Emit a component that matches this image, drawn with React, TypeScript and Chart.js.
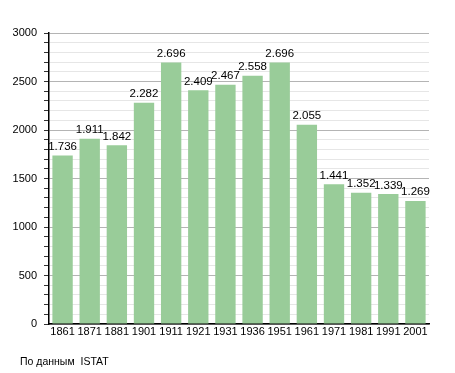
import React, { useEffect, useRef } from "react";
import { Chart, registerables } from "chart.js";

Chart.register(...registerables);

const years = ["1861", "1871", "1881", "1901", "1911", "1921", "1931", "1936", "1951", "1961", "1971", "1981", "1991", "2001"];
const population = [1736, 1911, 1842, 2282, 2696, 2409, 2467, 2558, 2696, 2055, 1441, 1352, 1339, 1269];
const valueLabels = ["1.736", "1.911", "1.842", "2.282", "2.696", "2.409", "2.467", "2.558", "2.696", "2.055", "1.441", "1.352", "1.339", "1.269"];
const sourceText = "По данным  ISTAT";

const FONT = "'Liberation Sans', Arial, sans-serif";

export default function App() {
  const ref = useRef<HTMLCanvasElement | null>(null);

  useEffect(() => {
    const canvas = ref.current;
    if (!canvas) return;

    const labelPlugin = {
      id: "labels",
      afterDatasetsDraw(chart: any) {
        const ctx = chart.ctx;
        const meta = chart.getDatasetMeta(0);
        ctx.save();
        ctx.font = `11.5px ${FONT}`;
        ctx.fillStyle = "#000";
        ctx.textAlign = "center";
        ctx.textBaseline = "bottom";
        meta.data.forEach((bar: any, i: number) => {
          ctx.fillText(valueLabels[i], bar.x, bar.y - 3);
        });
        ctx.font = `10.5px ${FONT}`;
        ctx.textAlign = "left";
        ctx.textBaseline = "middle";
        ctx.fillText(sourceText, 20, 362);
        ctx.restore();
      },
    };

    const chart = new Chart(canvas, {
      type: "bar",
      data: {
        labels: years,
        datasets: [
          {
            data: population,
            backgroundColor: "#99cc99",
            borderWidth: 0,
            categoryPercentage: 1,
            barPercentage: 0.75,
          },
        ],
      },
      options: {
        animation: false,
        responsive: false,
        maintainAspectRatio: false,
        devicePixelRatio: 1,
        layout: { padding: { left: 0, right: 26, top: 33, bottom: 28 } },
        plugins: { legend: { display: false }, tooltip: { enabled: false } },
        scales: {
          x: {
            grid: { display: false, drawTicks: false },
            border: { display: true, color: "#000", width: 1.5 },
            ticks: { color: "#000", font: { family: FONT, size: 11 }, padding: 1, maxRotation: 0, autoSkip: false },
            afterFit(scale: any) {
              scale.height = 21;
            },
          },
          y: {
            min: 0,
            max: 3000,
            grid: {
              color: (c: any) => (c.tick && c.tick.value % 500 === 0 ? "#b4b4b4" : "#e6e6e6"),
              tickColor: "#333",
              tickLength: 5,
              lineWidth: 1,
            },
            border: { display: true, color: "#000", width: 1.5 },
            ticks: {
              stepSize: 100,
              autoSkip: false,
              color: "#000",
              font: { family: FONT, size: 11 },
              padding: 7,
              callback: (v: any) => (Number(v) % 500 === 0 ? String(v) : ""),
            },
            afterFit(scale: any) {
              scale.width = 49;
            },
          },
        },
      },
      plugins: [labelPlugin],
    });

    return () => chart.destroy();
  }, []);

  return (
    <div style={{ position: "fixed", left: 0, top: 0, width: 455, height: 373, background: "#fff" }}>
      <canvas ref={ref} width={455} height={373} style={{ width: 455, height: 373 }} />
    </div>
  );
}
